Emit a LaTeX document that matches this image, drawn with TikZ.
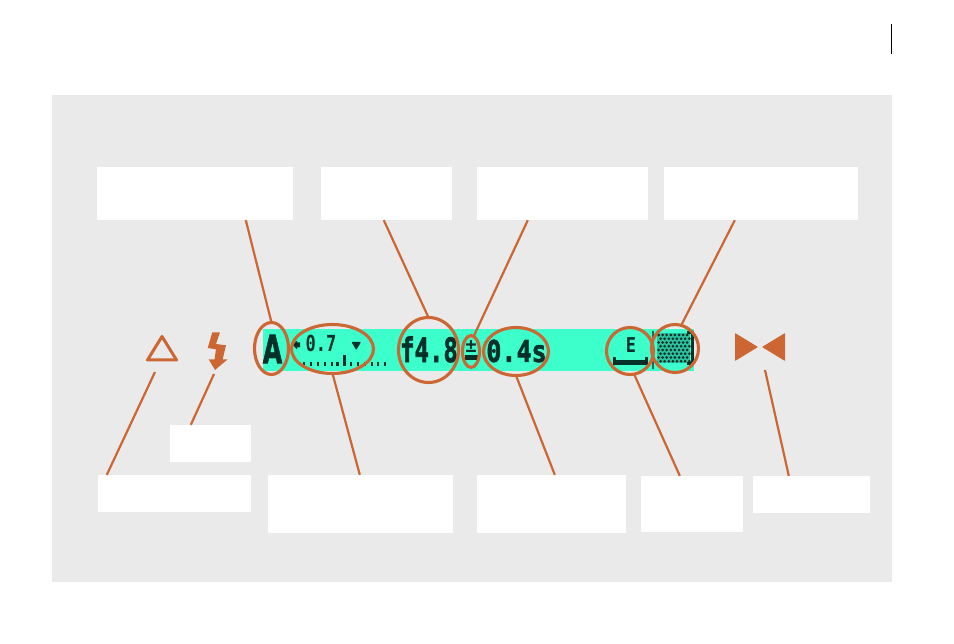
\documentclass[tikz,border=0pt]{standalone}
\usepackage{fontspec}
\usetikzlibrary{shapes.geometric}
\setmainfont{DejaVu Sans Mono}
\newfontfamily\lcdheavy[FakeBold=2]{DejaVu Sans Mono Bold}
\newfontfamily\lcdwide[FakeBold=2]{DejaVu Sans Bold}
\definecolor{rust}{HTML}{CC6633}
\definecolor{panel}{HTML}{EAEAEA}
\definecolor{lcdbg}{HTML}{3CFFCC}
\definecolor{lcdink}{HTML}{06302A}
\begin{document}
\begin{tikzpicture}[x=1pt,y=-1pt,
  lbl/.style={fill=white,draw=none,rectangle,inner sep=0pt},
  ring/.style={draw=rust,line width=3.1pt,fill=none,ellipse,inner sep=0pt,outer sep=0pt},
  conn/.style={draw=rust,line width=2.2pt},
  lcd/.style={text=lcdink,inner sep=0pt,anchor=center},
  sym/.style={fill=rust,draw=none}]
\useasboundingbox (0,0) rectangle (954,644);
\fill[white] (0,0) rectangle (954,644);
\draw[black,line width=0.9pt] (891,24) -- (891,54);
\fill[panel] (52,95) rectangle (892,582);
\fill[lcdbg] (263,329) rectangle (694,371);
% white label boxes
\node[lbl,minimum width=196pt,minimum height=53pt] (b1) at (195,193.5) {};
\node[lbl,minimum width=131pt,minimum height=53pt] (b2) at (386.5,193.5) {};
\node[lbl,minimum width=171pt,minimum height=53pt] (b3) at (562.5,193.5) {};
\node[lbl,minimum width=194pt,minimum height=53pt] (b4) at (761,193.5) {};
\node[lbl,minimum width=153pt,minimum height=37pt] (b5) at (174.5,493.5) {};
\node[lbl,minimum width=81pt,minimum height=37pt] (b6) at (210.5,443.5) {};
\node[lbl,minimum width=185pt,minimum height=58pt] (b7) at (360.5,504) {};
\node[lbl,minimum width=149pt,minimum height=58pt] (b8) at (551.5,504) {};
\node[lbl,minimum width=102pt,minimum height=56pt] (b9) at (692,504) {};
\node[lbl,minimum width=117pt,minimum height=37pt] (b10) at (811.5,494.5) {};
% LCD content
\node[lcd,font=\lcdwide\fontsize{25}{25}\selectfont] (tA) at (272.5,349) {\scalebox{1}[1.55]{A}};
\node[lcd,font=\bfseries\fontsize{17}{17}\selectfont] (t07) at (321,343.5) {\scalebox{1}[1.3]{0.7}};
\fill[lcdink] (293,345) -- (297,340.5) -- (297,342.5) -- (300,342.5) -- (300,347.5) -- (297,347.5) -- (297,349.5) -- cycle;
\fill[lcdink,rounded corners=0.8pt] (351.5,342) -- (361,342) -- (356.2,350) -- cycle;
\foreach \x in {304,311,318,325,332,337.5,351,358,365,372,378,385} \fill[lcdink] (\x-1.4,362) rectangle (\x+1.4,366);
\fill[lcdink] (342.8,355) rectangle (345.6,366);
\node[lcd,font=\lcdheavy\fontsize{24}{24}\selectfont] (tf) at (429,349.5) {\scalebox{1}[1.4]{f4.8}};
\node[lcd,font=\bfseries\fontsize{19}{19}\selectfont] (tpm) at (471,347) {±};
\fill[lcdink] (465,355.5) rectangle (478,360);
\node[lcd,font=\lcdheavy\fontsize{25}{25}\selectfont] (ts) at (516.5,351) {\scalebox{1}[1.2]{0.4s}};
\node[lcd,font=\bfseries\fontsize{17}{17}\selectfont] (tE) at (631,345) {\scalebox{1}[1.2]{E}};
\fill[lcdink] (613,360) rectangle (648,365);
\fill[lcdink] (613,357) rectangle (616,365);
\fill[lcdink] (645,357) rectangle (648,365);
\fill[lcdink!28!lcdbg] (657,333) rectangle (690,363);
\foreach \i in {0,...,7} \foreach \j in {0,...,7} {
  \pgfmathsetmacro{\cx}{658.5+4.1*\i+2.05*mod(\j,2)}
  \pgfmathsetmacro{\cy}{335+3.75*\j}
  \fill[lcdink] (\cx,\cy) circle (1.5);
}
\draw[lcdink!70!lcdbg,line width=1.6pt] (653,331) -- (653,369);
\draw[lcdink,line width=3pt] (687,333) -- (692,333) -- (692,364) -- (687,364);
% rings
\node[ring,minimum width=34pt,minimum height=52pt] (rA) at (271.5,348.5) {};
\node[ring,minimum width=82pt,minimum height=49pt] (rEv) at (332.5,349) {};
\node[ring,minimum width=60pt,minimum height=65pt] (rF) at (428.5,350) {};
\node[ring,minimum width=17pt,minimum height=32pt] (rPm) at (471,351.5) {};
\node[ring,minimum width=65pt,minimum height=48pt] (rS) at (516,351.5) {};
\node[ring,minimum width=47pt,minimum height=47pt] (rE) at (630,351) {};
\node[ring,minimum width=47pt,minimum height=48pt] (rC) at (675,348.5) {};
% free symbols
\draw[rust,line width=3pt,line join=round] (162,336.5) -- (147.5,360) -- (176.5,360) -- cycle;
\fill[sym] (212.3,332.3) -- (220,332.3) -- (216,344) -- (226,345.3) -- (222.7,359.3) -- (227.7,359.3) -- (215,370) -- (208.7,359.3) -- (214.5,359.3) -- (216,349.3) -- (207.7,348) -- cycle;
\fill[sym,rounded corners=0.6pt] (735,333) -- (758,347) -- (735,361) -- cycle;
\fill[sym,rounded corners=0.6pt] (785,333) -- (762,347) -- (785,361) -- cycle;
% connector free ends
\coordinate (triEnd) at (155,372);
\coordinate (boltEnd) at (214,374);
\coordinate (tieEnd) at (765,370);
% connectors
\draw[conn] ([xshift=149pt]b1.south west) -- (rA.north);
\draw[conn] ([xshift=63pt]b2.south west) -- (rF.north);
\draw[conn] ([xshift=51pt]b3.south west) -- (rPm.80);
\draw[conn] ([xshift=71pt]b4.south west) -- (rC.75);
\draw[conn] ([xshift=9pt]b5.north west) -- (triEnd);
\draw[conn] ([xshift=21pt]b6.north west) -- (boltEnd);
\draw[conn] ([xshift=92pt]b7.north west) -- (rEv.south);
\draw[conn] ([xshift=78pt]b8.north west) -- (rS.south);
\draw[conn] ([xshift=39pt]b9.north west) -- (rE.-80);
\draw[conn] ([xshift=36pt]b10.north west) -- (tieEnd);
\end{tikzpicture}
\end{document}
